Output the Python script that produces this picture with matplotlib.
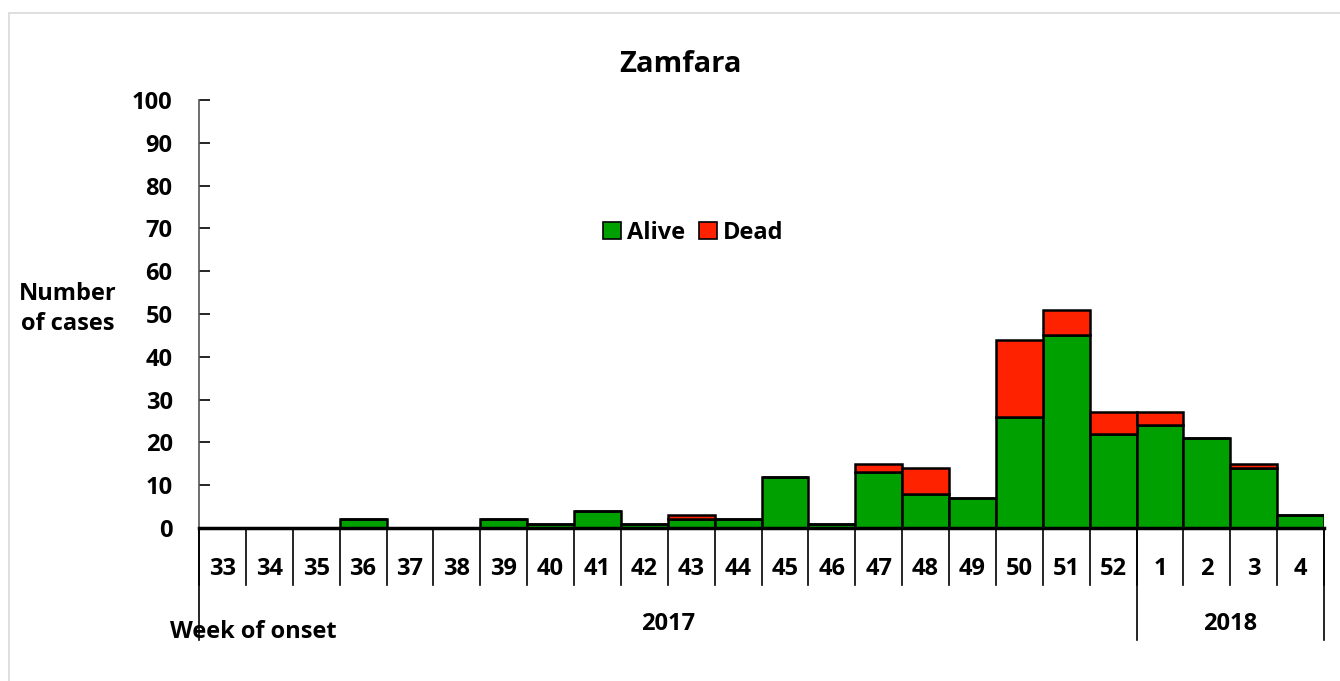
import matplotlib
matplotlib.use("Agg")
import matplotlib.pyplot as plt
import matplotlib.transforms as mtransforms
from matplotlib.patches import Rectangle
import numpy as np

weeks = ["33", "34", "35", "36", "37", "38", "39", "40", "41", "42", "43", "44",
         "45", "46", "47", "48", "49", "50", "51", "52", "1", "2", "3", "4"]
alive = [0, 0, 0, 2, 0, 0, 2, 1, 4, 1, 2, 2, 12, 1, 13, 8, 7, 26, 45, 22, 24, 21, 14, 3]
dead = [0, 0, 0, 0, 0, 0, 0, 0, 0, 0, 1, 0, 0, 0, 2, 6, 0, 18, 6, 5, 3, 0, 1, 0]
years = ["2017", "2018"]
year_counts = [20, 4]
yticks = [0, 10, 20, 30, 40, 50, 60, 70, 80, 90, 100]

FONT = ["Open Sans", "DejaVu Sans"]
plt.rcParams['font.family'] = FONT
plt.rcParams['font.weight'] = 'bold'
FS = 17

W, H = 1340, 681
fig = plt.figure(figsize=(W / 100, H / 100), dpi=100)
ax = fig.add_axes([199 / W, 1 - 528 / H, (1324 - 199) / W, (528 - 100) / H])

green = "#00A000"
red = "#FF2200"
x = np.arange(len(weeks))
ax.bar(x, alive, width=1.0, align='edge', color=green, edgecolor='black', linewidth=1.8, label='Alive', zorder=3)
ax.bar(x, dead, width=1.0, align='edge', bottom=alive, color=red, edgecolor='black', linewidth=1.8, label='Dead', zorder=3)

ax.set_xlim(0, len(weeks))
ax.set_ylim(0, 100)
ax.set_yticks(yticks)
ax.set_yticklabels([str(v) for v in yticks], fontsize=FS, fontweight='bold')
ax.tick_params(axis='y', direction='in', length=8, width=1.2, pad=19, colors='black')
ax.set_xticks([])
for s in ['top', 'right']:
    ax.spines[s].set_visible(False)
ax.spines['left'].set_color('#555555')
ax.spines['left'].set_linewidth(1.2)
ax.spines['bottom'].set_linewidth(2.5)
ax.spines['bottom'].set_zorder(4)

trans = mtransforms.blended_transform_factory(ax.transData, fig.transFigure)
def fy(py):
    return 1 - py / H

# week separators and labels
for i in range(len(weeks) + 1):
    ax.plot([i, i], [fy(528), fy(585)], transform=trans, color='black', lw=1.2, clip_on=False)
for i, w in enumerate(weeks):
    ax.text(i + 0.5, fy(569), w, transform=trans, ha='center', va='center', fontsize=FS, fontweight='bold')

# year separators
pos = 0
bounds = [0]
for c in year_counts:
    pos += c
    bounds.append(pos)
for b in bounds:
    ax.plot([b, b], [fy(528), fy(640)], transform=trans, color='black', lw=1.2, clip_on=False)
for i, yr in enumerate(years):
    ax.text((bounds[i] + bounds[i + 1]) / 2, fy(624), yr, transform=trans, ha='center', va='center',
            fontsize=FS, fontweight='bold')

fig.text(170 / W, fy(632), "Week of onset", ha='left', va='center', fontsize=FS, fontweight='bold')
fig.text(68 / W, fy(309), "Number\nof cases", ha='center', va='center', fontsize=FS, fontweight='bold',
         linespacing=1.3)
fig.text(680 / W, fy(64), "Zamfara", ha='center', va='center', fontsize=21, fontweight='bold')

leg = ax.legend(loc='center', bbox_to_anchor=((693 - 199) / (1324 - 199), (528 - 233) / (528 - 100)),
                ncol=2, frameon=False, handlelength=0.75, handleheight=0.75,
                handletextpad=0.25, columnspacing=0.6, prop={'weight': 'bold', 'size': FS})
for p in leg.get_patches():
    p.set_linewidth(1.2)

fig.patches.append(Rectangle((9 / W, fy(690)), 1.05, (690 - 13) / H, transform=fig.transFigure,
                             fill=False, edgecolor='#D9D9D9', lw=1.2))

fig.savefig("out.png", dpi=100)
